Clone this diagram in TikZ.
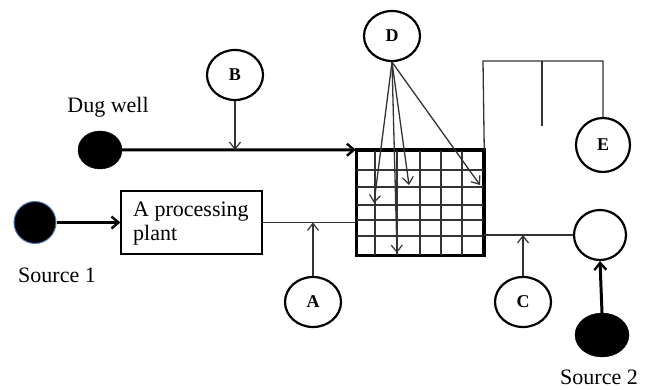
\documentclass[tikz,border=0pt]{standalone}
\usepackage{fontspec}
\setmainfont{Liberation Serif}
\usetikzlibrary{arrows.meta,shapes.geometric}
\begin{document}
\begin{tikzpicture}[x=1pt,y=-1pt,
  tag/.style={ellipse,draw,line width=2.2pt,minimum width=56pt,minimum height=50pt,inner sep=0pt,font=\fontsize{18}{20}\selectfont\bfseries},
  blk/.style={ellipse,fill=black,draw=black,inner sep=0pt},
  thin/.style={line width=1.3pt,draw=black!80},
  thinarr/.style={thin,-{Straight Barb[length=7pt,width=11pt,line width=1.2pt]}},
  thickarr/.style={line width=3pt,-{Straight Barb[length=7pt,width=12pt,line width=2.4pt]}},
  lab/.style={font=\fontsize{22}{24}\selectfont}
]
\useasboundingbox (0,0) rectangle (646,390);

% grid
\node[draw,line width=2.5pt,minimum width=126pt,minimum height=104pt,inner sep=0pt] (G) at (420,203) {};
\foreach \xx in {375,397,420,441,462}
  \draw[thin] (\xx,151) -- (\xx,255);
\foreach \yy in {170,187,205,220,236}
  \draw[thin] (357,\yy) -- (483,\yy);
\draw[line width=2.5pt] (G.north west) rectangle (G.south east);

% labelled circles
\node[tag] (D) at (392,36) {D};
\node[tag] (B) at (235,75) {B};
\node[tag] (A) at (313,302) {A};
\node[tag] (C) at (523,302) {C};
\node[tag,minimum width=54pt,minimum height=54pt] (E) at (603,145) {E};
\node[ellipse,draw,line width=2.2pt,minimum width=52pt,minimum height=50pt,inner sep=0pt] (O) at (600,235) {};

% sources
\node[blk,minimum width=44pt,minimum height=38pt] (DW) at (100,150) {};
\node[blk,draw={rgb,255:red,80;green,120;blue,190},line width=1pt,minimum width=42pt,minimum height=42pt] (S1) at (35,222.5) {};
\node[blk,minimum width=54pt,minimum height=44pt] (S2) at (602,335) {};

% processing plant
\node[draw,line width=1.3pt,minimum width=141pt,minimum height=63pt,inner sep=0pt] (P) at (191.5,222.5) {};
\node[lab,align=left,anchor=north west,inner sep=0pt] (Pt) at (133,202) {A processing\\plant};

% text labels
\node[lab] (tdw) at (108,107) {Dug well};
\node[lab] (ts1) at (57,275) {Source 1};
\node[lab] (ts2) at (599,377) {Source 2};

% thick flows
\draw[thickarr] (DW.east) -- (G.north west);
\draw[thickarr] (S1.east) -- (P.west);
\draw[thickarr] (S2.north) -- (O.south);

% thin lines
\draw[thin] (P.east) -- (P.east -| G.west);
\draw[thin] (G.east |- O.west) -- (O.west);
\coordinate (ja) at (A.north |- P.east);
\coordinate (jc) at (C.north |- O.west);
\coordinate (jb) at (B.south |- DW.east);
\draw[thinarr] (A.north) -- (ja);
\draw[thinarr] (C.north) -- (jc);
\draw[thinarr] (B.south) -- (jb);

% E connection
\coordinate (e1) at (483,61);
\coordinate (e2) at (542,61);
\coordinate (e3) at (542,126);
\draw[thin] (G.north east) -- (e1) -| (E.north);
\draw[thin] (e2) -- (e3);

% D arrows
\coordinate (d1) at (374,203);
\coordinate (d2) at (397,253);
\coordinate (d3) at (409,185);
\coordinate (d4) at (480,185);
\foreach \t in {d1,d2,d3,d4}
  \draw[thinarr] (D.south) -- (\t);
\end{tikzpicture}
\end{document}
